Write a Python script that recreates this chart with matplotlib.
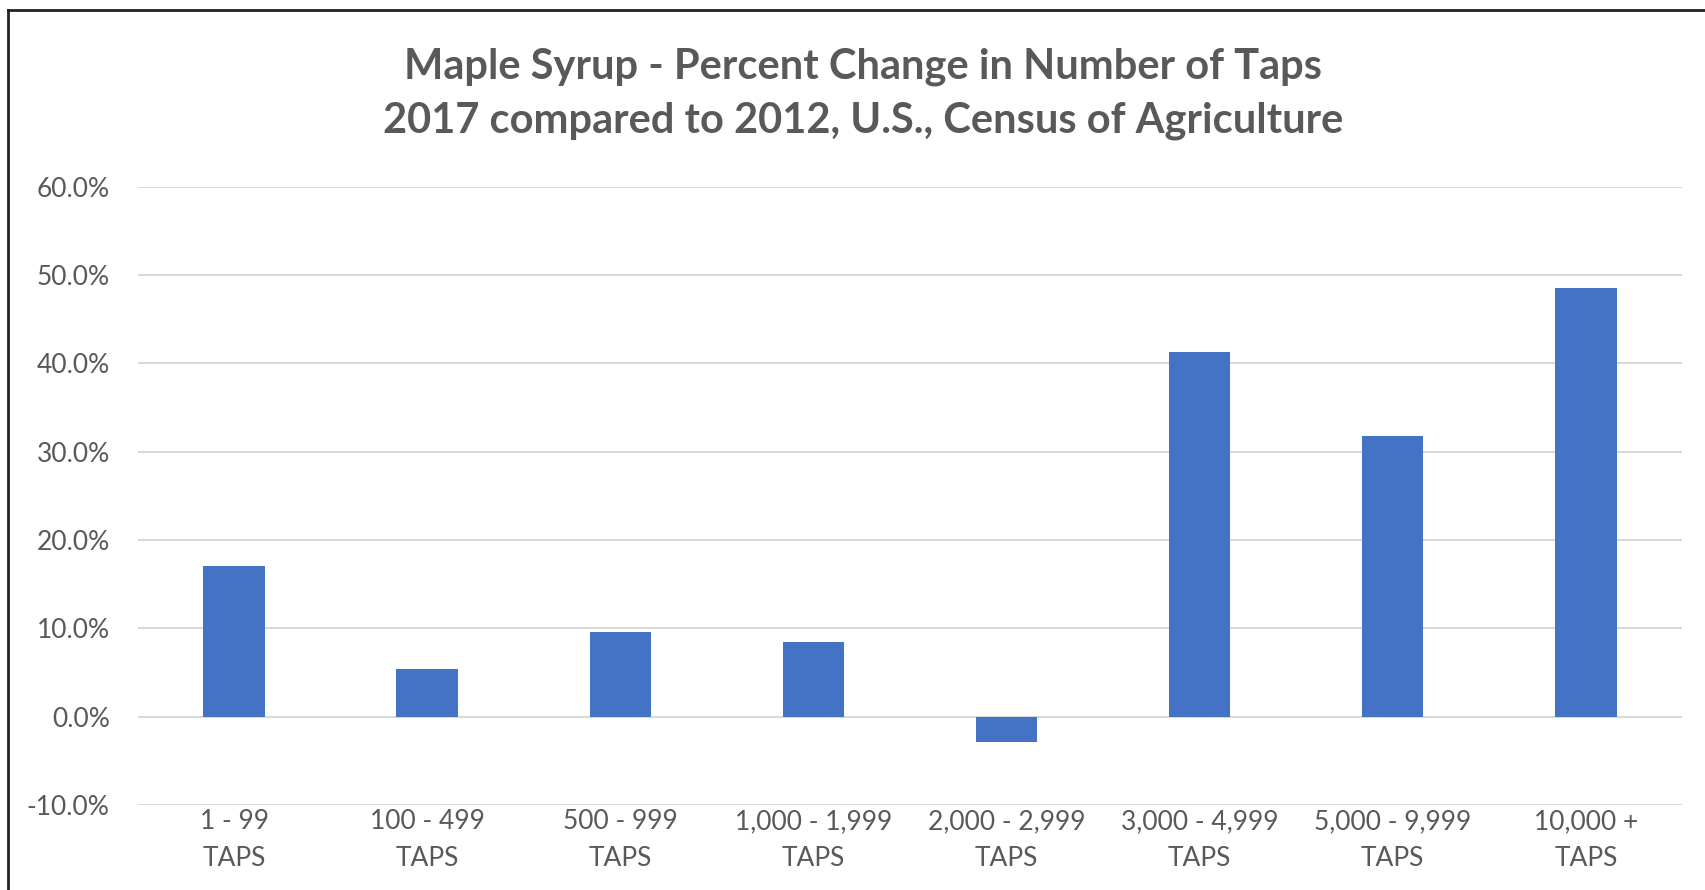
import numpy as np
import matplotlib.pyplot as plt
from matplotlib.lines import Line2D
from matplotlib.ticker import FuncFormatter

# Data
categories = ['1 - 99\nTAPS', '100 - 499\nTAPS', '500 - 999\nTAPS', '1,000 - 1,999\nTAPS',
              '2,000 - 2,999\nTAPS', '3,000 - 4,999\nTAPS', '5,000 - 9,999\nTAPS', '10,000 +\nTAPS']
pct_change = [17.1, 5.4, 9.6, 8.4, -2.9, 41.3, 31.8, 48.5]
y_ticks = [-10, 0, 10, 20, 30, 40, 50, 60]

text_color = '#595959'
bar_color = '#4472C4'
grid_color = '#D9D9D9'

plt.rcParams['font.family'] = ['Lato', 'DejaVu Sans']

fig = plt.figure(figsize=(17.06, 8.90), dpi=100)
ax = fig.add_axes([0.0806, 0.0956, 0.9056, 0.6947])

x = np.arange(len(categories))
ax.bar(x, pct_change, width=0.318, color=bar_color, zorder=3)

ax.set_xlim(-0.5, len(categories) - 0.5)
ax.set_ylim(-10, 60)
ax.set_yticks(y_ticks)
ax.yaxis.set_major_formatter(FuncFormatter(lambda v, p: f'{v:.1f}%'))
ax.set_xticks(x)
ax.set_xticklabels(categories, linespacing=1.6)

ax.grid(axis='y', color=grid_color, linewidth=1.5, zorder=0)
for s in ax.spines.values():
    s.set_visible(False)
ax.tick_params(axis='y', length=0, pad=20, labelsize=19, labelcolor=text_color)
ax.tick_params(axis='x', length=0, pad=3, labelsize=19, labelcolor=text_color)

fig.text(0.506, 0.895, 'Maple Syrup - Percent Change in Number of Taps\n'
         '2017 compared to 2012, U.S., Census of Agriculture',
         ha='center', va='center', fontsize=30, fontweight='bold',
         color=text_color, linespacing=1.5)

# frame edges of the screenshot
fig.add_artist(Line2D([0.0045, 0.0045], [0, 0.989], color='#222222', linewidth=2,
                      transform=fig.transFigure))
fig.add_artist(Line2D([0.0045, 1], [0.989, 0.989], color='#222222', linewidth=2,
                      transform=fig.transFigure))

fig.savefig('out.png', dpi=100)
